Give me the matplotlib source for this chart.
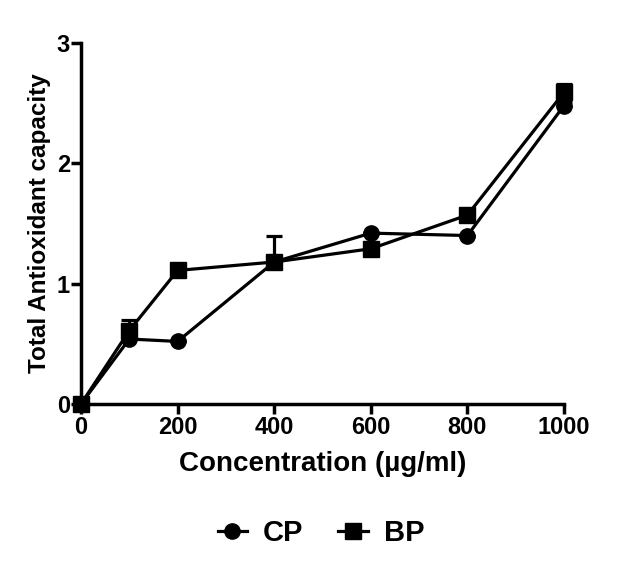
import matplotlib
matplotlib.use("Agg")
import matplotlib.pyplot as plt
from matplotlib.lines import Line2D

conc = [0, 100, 200, 400, 600, 800, 1000]
cp = [0.0, 0.54, 0.52, 1.18, 1.42, 1.40, 2.48]
cp_err = [0.0, 0.03, 0.0, 0.0, 0.0, 0.0, 0.03]
bp = [0.0, 0.61, 1.11, 1.18, 1.29, 1.57, 2.59]
bp_err = [0.0, 0.09, 0.0, 0.22, 0.0, 0.0, 0.07]
xticks = [0, 200, 400, 600, 800, 1000]
yticks = [0, 1, 2, 3]

plt.rcParams['font.family'] = ['Liberation Sans', 'DejaVu Sans']
plt.rcParams['font.weight'] = 'bold'

fig = plt.figure(figsize=(6.42, 5.69), dpi=100)
ax = fig.add_axes([81/642, 1-404/569, (564-81)/642, (404-43)/569])

lw = 2.3
ax.errorbar(conc, cp, yerr=[[0]*len(cp_err), cp_err], color='black', marker='o',
            markersize=11, linewidth=lw, elinewidth=lw, capsize=6, capthick=lw,
            clip_on=False, zorder=3)
ax.errorbar(conc, bp, yerr=[[0]*len(bp_err), bp_err], color='black', marker='s',
            markersize=11, linewidth=lw, elinewidth=lw, capsize=6, capthick=lw,
            clip_on=False, zorder=3)

ax.set_xlim(0, 1000)
ax.set_ylim(0, 3)
ax.set_xticks(xticks)
ax.set_yticks(yticks)
ax.spines['top'].set_visible(False)
ax.spines['right'].set_visible(False)
ax.spines['left'].set_linewidth(2.5)
ax.spines['bottom'].set_linewidth(2.5)
ax.tick_params(width=2.5, length=7, labelsize=17)
ax.tick_params(axis='y', pad=1)
ax.tick_params(axis='x', pad=2)
for t in ax.get_xticklabels() + ax.get_yticklabels():
    t.set_fontweight('bold')

ax.set_xlabel('Concentration (\u00b5g/ml)', fontsize=20, fontweight='bold', labelpad=8)
ax.set_ylabel('Total Antioxidant capacity', fontsize=17.5, fontweight='bold', labelpad=4)

handles = [Line2D([], [], color='black', marker='o', markersize=11, linewidth=lw),
           Line2D([], [], color='black', marker='s', markersize=11, linewidth=lw)]
fig.legend(handles, ['CP', 'BP'], loc='center', bbox_to_anchor=(0.5, 1-533/569), ncol=2,
           frameon=False, prop={'weight': 'bold', 'size': 21},
           handlelength=1.0, columnspacing=1.2, handletextpad=0.55)

fig.savefig('out.png', dpi=100)
